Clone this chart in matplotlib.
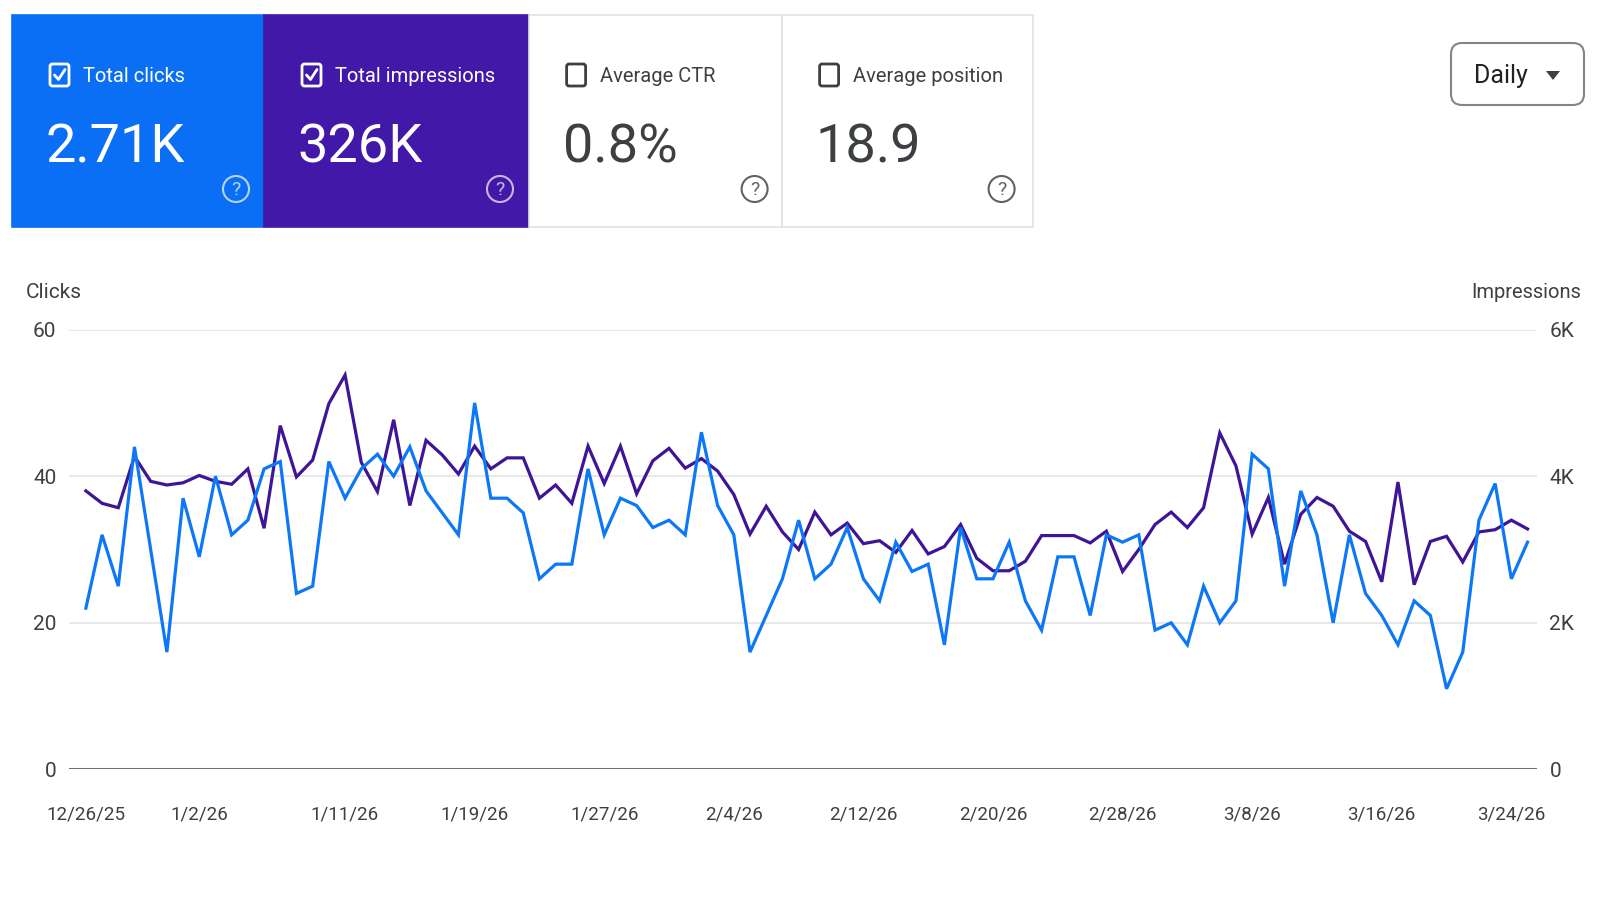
import numpy as np
import pandas as pd
import matplotlib.pyplot as plt
from matplotlib.patches import Rectangle, FancyBboxPatch, Circle, Polygon

plt.rcParams['font.family'] = ['Roboto', 'DejaVu Sans']

# daily values, 12/26/25 .. 3/25/26
clicks = [22, 32, 25, 44, 30, 16, 37, 29, 40, 32,
          34, 41, 42, 24, 25, 42, 37, 41, 43, 40,
          44, 38, 35, 32, 50, 37, 37, 35, 26, 28,
          28, 41, 32, 37, 36, 33, 34, 32, 46, 36,
          32, 16, 21, 26, 34, 26, 28, 33, 26, 23,
          31, 27, 28, 17, 33, 26, 26, 31, 23, 19,
          29, 29, 21, 32, 31, 32, 19, 20, 17, 25,
          20, 23, 43, 41, 25, 38, 32, 20, 32, 24,
          21, 17, 23, 21, 11, 16, 34, 39, 26, 31]
impressions = [3800, 3630, 3570, 4270, 3930, 3880, 3910, 4010, 3930, 3890,
               4100, 3290, 4690, 3990, 4220, 4990, 5380, 4190, 3790, 4770,
               3600, 4490, 4290, 4030, 4410, 4100, 4250, 4250, 3700, 3880,
               3630, 4410, 3900, 4410, 3760, 4210, 4380, 4110, 4240, 4070,
               3750, 3210, 3590, 3240, 3000, 3510, 3200, 3360, 3080, 3120,
               2960, 3260, 2940, 3040, 3340, 2880, 2710, 2710, 2840, 3190,
               3190, 3190, 3090, 3250, 2700, 3000, 3340, 3510, 3300, 3570,
               4590, 4140, 3210, 3710, 2800, 3480, 3710, 3590, 3250, 3110,
               2560, 3920, 2520, 3110, 3180, 2830, 3240, 3270, 3400, 3280]
date_labels = ['12/26/25', '1/2/26', '1/11/26', '1/19/26', '1/27/26', '2/4/26',
               '2/12/26', '2/20/26', '2/28/26', '3/8/26', '3/16/26', '3/24/26']

card_titles = ['Total clicks', 'Total impressions', 'Average CTR', 'Average position']
card_values = ['2.71K', '326K', '0.8%', '18.9']
card_checked = [True, True, False, False]

BLUE = '#0a6ff4'
PURPLE = '#4118a8'
LINE_BLUE = '#0d78f7'
LINE_PURPLE = '#3f1598'
TEXT = '#3c4043'

W, H = 1600, 900
fig = plt.figure(figsize=(16, 9), dpi=100)
fig.patch.set_facecolor('white')

dates = pd.date_range('2025-12-26', periods=len(clicks), freq='D')
tick_dates = pd.to_datetime(date_labels, format='%m/%d/%y')

# ---- chart ----
ax = fig.add_axes([69 / W, 130.6 / H, (1537 - 69) / W, 439.8 / H])
ax2 = ax.twinx()
ax.set_zorder(ax2.get_zorder() + 1)
ax.patch.set_visible(False)

ax2.plot(dates, impressions, color=LINE_PURPLE, lw=2.3, solid_joinstyle='miter')
ax.plot(dates, clicks, color=LINE_BLUE, lw=2.3, solid_joinstyle='miter')

ax.set_xlim(dates[0] - pd.Timedelta(hours=25), dates[-1] + pd.Timedelta(hours=14))
ax.set_ylim(0, 60)
ax2.set_ylim(0, 6000)
ax.set_yticks([0, 20, 40, 60])
ax2.set_yticks([0, 2000, 4000, 6000])
ax2.set_yticklabels(['0', '2K', '4K', '6K'])
ax.set_xticks(tick_dates)
ax.set_xticklabels(date_labels)

for v in [20, 40, 60]:
    ax2.axhline(v * 100, color='#e4e4e4', lw=1.2, zorder=0)
ax2.axhline(0, color='#6e6e6e', lw=2.2, zorder=0)

for a in (ax, ax2):
    for s in a.spines.values():
        s.set_visible(False)
ax.tick_params(axis='y', length=0, pad=9, labelsize=15, labelcolor=TEXT)
ax2.tick_params(axis='y', length=0, pad=9, labelsize=15, labelcolor=TEXT)
ax.tick_params(axis='x', length=0, pad=26, labelsize=13.5, labelcolor=TEXT)

# ---- overlay in pixel coordinates ----
ov = fig.add_axes([0, 0, 1, 1])
ov.set_xlim(0, W)
ov.set_ylim(H, 0)
ov.axis('off')

ov.text(26, 292, 'Clicks', fontsize=15, color=TEXT, va='center', ha='left')
ov.text(1581, 292, 'Impressions', fontsize=14.5, color=TEXT, va='center', ha='right')

edges = [12, 264, 528.6, 781.6, 1032.6]
fills = [BLUE, PURPLE, 'white', 'white']
help_dx = [224, 236, 226, 220]
for i, title in enumerate(card_titles):
    x0, x1 = edges[i], edges[i + 1]
    filled = fills[i] != 'white'
    ov.add_patch(Rectangle((x0, 14.5), x1 - x0, 212, facecolor=fills[i],
                           edgecolor=fills[i] if filled else '#e3e3e3', lw=1.2))
    fg = 'white' if filled else TEXT
    # checkbox
    ov.add_patch(FancyBboxPatch((x0 + 38, 64), 19, 22,
                                boxstyle='round,pad=0,rounding_size=2.5',
                                facecolor='none', edgecolor=fg, lw=2))
    if card_checked[i]:
        ov.plot([x0 + 42.5, x0 + 46.5, x0 + 53], [75, 79.5, 69.5],
                color=fg, lw=2, solid_capstyle='round')
    ov.text(x0 + 71, 77, title, fontsize=14.5, color=fg, va='center', ha='left')
    ov.text(x0 + 34, 148, card_values[i], fontsize=39, color=fg,
            va='center', ha='left')
    # help icon
    hc = (1, 1, 1, 0.7) if filled else '#5f6368'
    hx = x0 + help_dx[i]
    ov.add_patch(Circle((hx, 189), 13, facecolor='none', edgecolor=hc, lw=1.5))
    ov.text(hx, 190, '?', fontsize=14, color=hc, va='center', ha='center')

# Daily dropdown
ov.add_patch(FancyBboxPatch((1451, 43), 133, 62,
                            boxstyle='round,pad=0,rounding_size=11',
                            facecolor='white', edgecolor='#80868b', lw=1.5))
ov.text(1474, 76, 'Daily', fontsize=18, color='#202124', va='center', ha='left')
ov.add_patch(Polygon([(1546, 71), (1560, 71), (1553, 80)], closed=True,
                     facecolor='#3c4043', edgecolor='none'))

fig.savefig('out.png', dpi=100, facecolor='white')
